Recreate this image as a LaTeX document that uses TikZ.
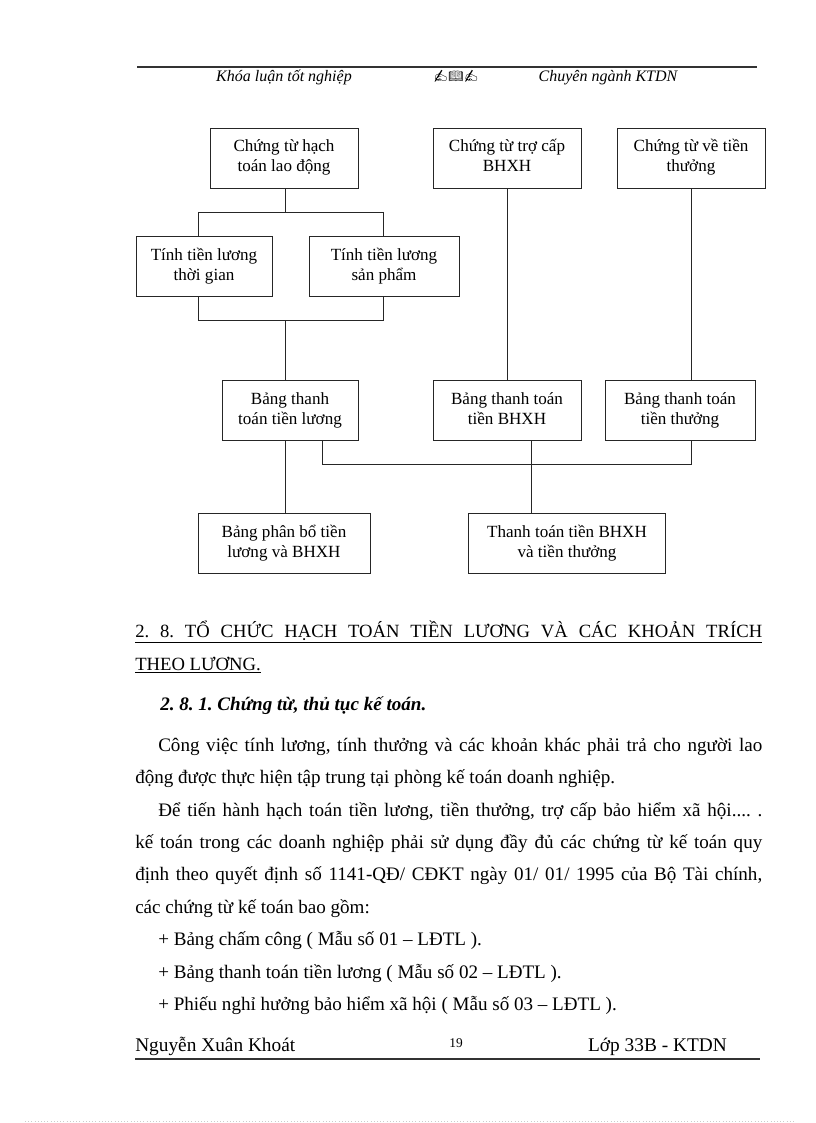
\documentclass[tikz,border=0pt]{standalone}
\usepackage{fontspec}
\setmainfont{Liberation Serif}
\newfontfamily\emojifont{Noto Emoji}
\frenchspacing
\newcommand{\boxtext}[2]{\strut#1\\\strut#2}
\begin{document}
\begin{tikzpicture}[x=0.75pt,y=-0.75pt,
  box/.style={draw=linecolor, line width=0.7pt, minimum height=45pt, inner sep=1pt,
    align=center, font=\fontsize{12.8}{15}\selectfont},
  conn/.style={draw=linecolor, line width=0.7pt},
  txt/.style={anchor=base west, inner sep=0pt, font=\fontsize{14.3}{17}\selectfont}]
  % Define colors
  \colorlet{linecolor}{black!85}
  \colorlet{rulecolor}{black!80}

  % Page size
  \useasboundingbox (0,0) rectangle (816,1123);

  % Header
  \draw[rulecolor, line width=0.8pt] (137,67) -- (757,67);
  \node[anchor=base, font=\itshape\fontsize{12}{14}\selectfont] (hleft) at (284,82) {Khóa luận tốt nghiệp};
  \node[anchor=base, font=\emojifont\fontsize{9}{10}\selectfont] (horn) at (456,81) {✍📖✍};
  \node[anchor=base, font=\itshape\fontsize{12}{14}\selectfont] (hright) at (608,82) {Chuyên ngành KTDN};

  % Boxes
  \node[box, minimum width=111pt] (b1) at (284,158) {\boxtext{Chứng từ hạch}{toán lao động}};
  \node[box, minimum width=111pt] (b2) at (507,158) {\boxtext{Chứng từ trợ cấp}{BHXH}};
  \node[box, minimum width=111pt] (b3) at (691,158) {\boxtext{Chứng từ về tiền}{thưởng}};
  \node[box, minimum width=102pt] (b4) at (204,266) {\boxtext{Tính tiền lương}{thời gian}};
  \node[box, minimum width=112.5pt] (b5) at (384,266) {\boxtext{Tính tiền lương}{sản phẩm}};
  \node[box, minimum width=102pt] (b6) at (290,410) {\boxtext{Bảng thanh}{toán tiền lương}};
  \node[box, minimum width=111pt] (b7) at (507,410) {\boxtext{Bảng thanh toán}{tiền BHXH}};
  \node[box, minimum width=112.5pt] (b8) at (680,410) {\boxtext{Bảng thanh toán}{tiền thưởng}};
  \node[box, minimum width=129pt] (b9) at (284,543) {\boxtext{Bảng phân bổ tiền}{lương và BHXH}};
  \node[box, minimum width=148pt] (b10) at (567,543) {\boxtext{Thanh toán tiền BHXH}{và tiền thưởng}};

  % Junctions
  \coordinate (s1) at (285,212);
  \coordinate (s1l) at (198,212);
  \coordinate (s1r) at (383,212);
  \coordinate (s2) at (285,320);
  \coordinate (s2l) at (198,320);
  \coordinate (s2r) at (383,320);
  \coordinate (s3l) at (322,464);
  \coordinate (s3r) at (691,464);
  \coordinate (s4) at (531,464);

  % Connectors
  \draw[conn] (b1.south -| s1) -- (s1);
  \draw[conn] (s1l) -- (s1r);
  \draw[conn] (s1l) -- (b4.north -| s1l);
  \draw[conn] (s1r) -- (b5.north -| s1r);
  \draw[conn] (b4.south -| s2l) -- (s2l) -- (s2r) -- (b5.south -| s2r);
  \draw[conn] (s2) -- (b6.north -| s2);
  \draw[conn] (b2.south) -- (b7.north);
  \draw[conn] (b3.south) -- (b8.north -| b3.south);
  \draw[conn] (b6.south -| s2) -- (b9.north -| s2);
  \draw[conn] (b6.south -| s3l) -- (s3l) -- (s3r) -- (b8.south -| s3r);
  \draw[conn] (b7.south -| s4) -- (b10.north -| s4);

  % Section heading
  \node[txt, font=\fontsize{14}{17}\selectfont] (sec) at (135,637) {\underline{\makebox[470.25pt][s]{2. 8. TỔ CHỨC HẠCH TOÁN TIỀN LƯƠNG VÀ CÁC KHOẢN TRÍCH}}};
  \node[txt, font=\fontsize{14}{17}\selectfont] (sec2) at (135,670) {\underline{THEO LƯƠNG.}};
  \node[txt, font=\bfseries\itshape\fontsize{14.3}{17}\selectfont] (sub) at (160,710) {2. 8. 1. Chứng từ, thủ tục kế toán.};

  % Body text
  \node[txt] (p1) at (158,751) {\makebox[453pt][s]{Công việc tính lương, tính thưởng và các khoản khác phải trả cho người lao}};
  \node[txt] (p2) at (135,783) {động được thực hiện tập trung tại phòng kế toán doanh nghiệp.};
  \node[txt] (p3) at (158,816) {\makebox[453pt][s]{Để tiến hành hạch toán tiền lương, tiền thưởng, trợ cấp bảo hiểm xã hội.... .}};
  \node[txt] (p4) at (135,848) {\makebox[470.25pt][s]{kế toán trong các doanh nghiệp phải sử dụng đầy đủ các chứng từ kế toán quy}};
  \node[txt] (p5) at (135,880) {\makebox[470.25pt][s]{định theo quyết định số 1141-QĐ/ CĐKT ngày 01/ 01/ 1995 của Bộ Tài chính,}};
  \node[txt] (p6) at (135,913) {các chứng từ kế toán bao gồm:};

  % List items
  \foreach \y/\item in {945/{+ Bảng chấm công ( Mẫu số 01 – LĐTL ).},
                        978/{+ Bảng thanh toán tiền lương ( Mẫu số 02 – LĐTL ).},
                        1010/{+ Phiếu nghỉ hưởng bảo hiểm xã hội ( Mẫu số 03 – LĐTL ).}} {
    \node[txt] at (158,\y) {\item};
  }

  % Footer
  \node[txt, font=\fontsize{14.5}{17}\selectfont] (fleft) at (135,1051) {Nguyễn Xuân Khoát};
  \node[anchor=base, inner sep=0pt, font=\fontsize{10}{12}\selectfont] (fpage) at (456,1047) {19};
  \node[anchor=base east, inner sep=0pt, font=\fontsize{14.5}{17}\selectfont] (fright) at (727,1051) {Lớp 33B - KTDN};
  \draw[rulecolor, line width=0.8pt] (135,1059) -- (760,1059);

  % Page edge
  \draw[gray!40, dotted] (25,1121) -- (795,1121);
\end{tikzpicture}
\end{document}
